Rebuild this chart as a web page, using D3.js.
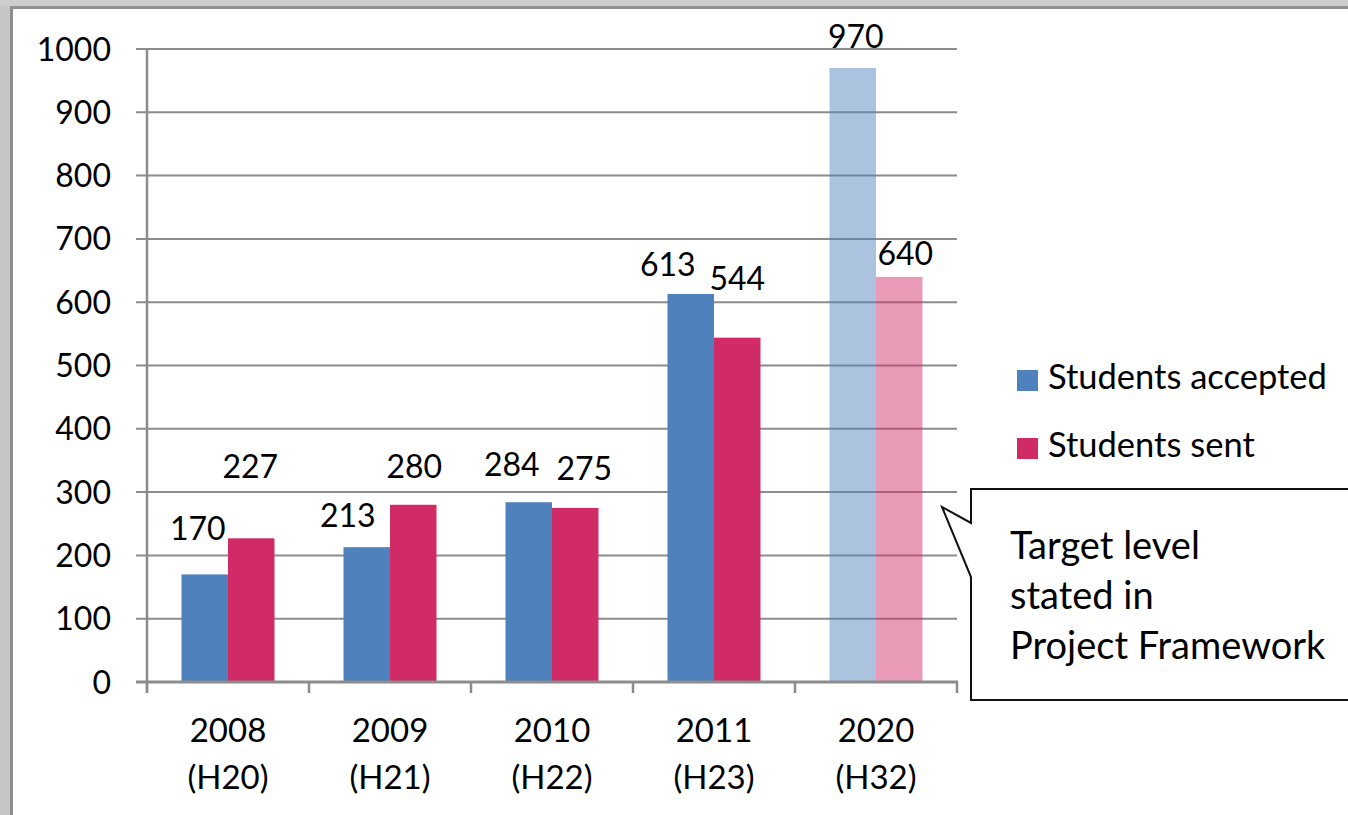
<!DOCTYPE html>
<html>
<head>
<meta charset="utf-8">
<script src="https://cdn.jsdelivr.net/npm/d3@7"></script>
<style>
  html, body { margin: 0; padding: 0; background: #c6c6c6; }
  svg { display: block; font-family: Lato, "Open Sans", sans-serif; }
</style>
</head>
<body>
<svg id="chart"></svg>
<script>
// chart values
const years = ["2008", "2009", "2010", "2011", "2020"];
const eras = ["(H20)", "(H21)", "(H22)", "(H23)", "(H32)"];
const seriesNames = ["Students accepted", "Students sent"];
const accepted = [170, 213, 284, 613, 970];
const sent = [227, 280, 275, 544, 640];
const yTicks = [0, 100, 200, 300, 400, 500, 600, 700, 800, 900, 1000];
const targetYear = "2020"; // drawn lighter: target, not actual
const calloutLines = ["Target level", "stated in", "Project Framework"];

// labels were dragged around by hand in the original, so nudge them [dx, dy from bar top]
const labelShift = [
    [[-7, -34], [-1, -60]],
    [[-19, -20], [1, -27]],
    [[-17, -26], [9, -28]],
    [[-23, -18], [0, -48]],
    [[3, -20], [6, -12]]
];

const width = 1348;
const height = 815;
const colors = ["#4f81bd", "#d12b67"];

const svg = d3.select("#chart")
    .attr("width", width)
    .attr("height", height);

// frame: grey window edge then white panel
svg.append("rect")
    .attr("x", 0).attr("y", 0)
    .attr("width", width).attr("height", 6)
    .attr("fill", "#cdcdcd");
svg.append("rect")
    .attr("x", 10).attr("y", 6)
    .attr("width", width).attr("height", height)
    .attr("fill", "#8e8e8e");
svg.append("rect")
    .attr("x", 13).attr("y", 9)
    .attr("width", width).attr("height", height)
    .attr("fill", "#fff");

const x0 = d3.scaleBand()
    .domain(years)
    .range([147, 957])
    .paddingInner(0.426)
    .paddingOuter(0.213);

const x1 = d3.scaleBand()
    .domain([0, 1])
    .range([0, x0.bandwidth()]);

const y = d3.scaleLinear()
    .domain([0, 1000])
    .range([682, 49]);

const gridColor = "#8c8c8c";

// gridlines + y ticks
svg.append("g")
    .selectAll("line")
    .data(yTicks.filter(d => d > 0))
    .join("line")
    .attr("x1", 136).attr("x2", 957)
    .attr("y1", d => y(d)).attr("y2", d => y(d))
    .attr("stroke", gridColor)
    .attr("stroke-width", 2);

svg.append("g")
    .selectAll("text")
    .data(yTicks)
    .join("text")
    .attr("x", 111)
    .attr("y", d => y(d))
    .attr("dy", "0.36em")
    .attr("text-anchor", "end")
    .attr("font-size", 32)
    .attr("fill", "#000")
    .text(d => d);

// bars
const rows = years.map((yr, i) => ({
    year: yr,
    i: i,
    values: [accepted[i], sent[i]]
}));

const groups = svg.append("g")
    .selectAll("g")
    .data(rows)
    .join("g")
    .attr("transform", d => `translate(${x0(d.year)},0)`);

groups.selectAll("rect")
    .data(d => d.values.map((v, s) => ({ v, s, year: d.year })))
    .join("rect")
    .attr("x", d => x1(d.s))
    .attr("y", d => y(d.v))
    .attr("width", x1.bandwidth())
    .attr("height", d => y(0) - y(d.v))
    .attr("fill", d => colors[d.s])
    .attr("fill-opacity", d => d.year === targetYear ? 0.48 : 1);

groups.selectAll("text")
    .data(d => d.values.map((v, s) => ({ v, s, i: d.i })))
    .join("text")
    .attr("x", d => x1(d.s) + x1.bandwidth() / 2 + labelShift[d.i][d.s][0])
    .attr("y", d => y(d.v) + labelShift[d.i][d.s][1])
    .attr("text-anchor", "middle")
    .attr("font-size", 32)
    .attr("fill", "#000")
    .text(d => d.v);

// axes lines
svg.append("line")
    .attr("x1", 147).attr("x2", 147)
    .attr("y1", y(1000)).attr("y2", 693)
    .attr("stroke", gridColor).attr("stroke-width", 2.5);
svg.append("line")
    .attr("x1", 136).attr("x2", 958)
    .attr("y1", y(0)).attr("y2", y(0))
    .attr("stroke", gridColor).attr("stroke-width", 3);

const tickXs = years.map(d => x0(d) - x0.step() * x0.paddingInner() / 2)
    .concat([957]);
svg.append("g")
    .selectAll("line")
    .data(tickXs)
    .join("line")
    .attr("x1", d => d).attr("x2", d => d)
    .attr("y1", y(0)).attr("y2", 693)
    .attr("stroke", gridColor).attr("stroke-width", 2.5);

// category labels
const cat = svg.append("g")
    .selectAll("text")
    .data(years)
    .join("text")
    .attr("x", d => x0(d) + x0.bandwidth() / 2)
    .attr("text-anchor", "middle")
    .attr("font-size", 33)
    .attr("fill", "#000");
cat.append("tspan")
    .attr("x", d => x0(d) + x0.bandwidth() / 2)
    .attr("y", 742)
    .text(d => d);
cat.append("tspan")
    .attr("x", d => x0(d) + x0.bandwidth() / 2)
    .attr("y", 789)
    .text((d, i) => eras[i]);

// legend
const legend = svg.append("g")
    .selectAll("g")
    .data(seriesNames)
    .join("g")
    .attr("transform", (d, i) => `translate(1017,${370 + i * 68})`);
legend.append("rect")
    .attr("width", 21).attr("height", 21)
    .attr("fill", (d, i) => colors[i]);
legend.append("text")
    .attr("x", 31)
    .attr("y", 19)
    .attr("font-size", 34.5)
    .attr("fill", "#000")
    .text(d => d);

// callout box pointing at the 2020 bars
svg.append("path")
    .attr("d", "M971,489 L1360,489 L1360,700 L971,700 L971,577 L942,507 L971,523 Z")
    .attr("fill", "#fff")
    .attr("stroke", "#111")
    .attr("stroke-width", 2);

svg.append("text")
    .attr("font-size", 38)
    .attr("fill", "#000")
    .selectAll("tspan")
    .data(calloutLines)
    .join("tspan")
    .attr("x", 1010)
    .attr("y", (d, i) => 559 + i * 50)
    .text(d => d);
</script>
</body>
</html>
